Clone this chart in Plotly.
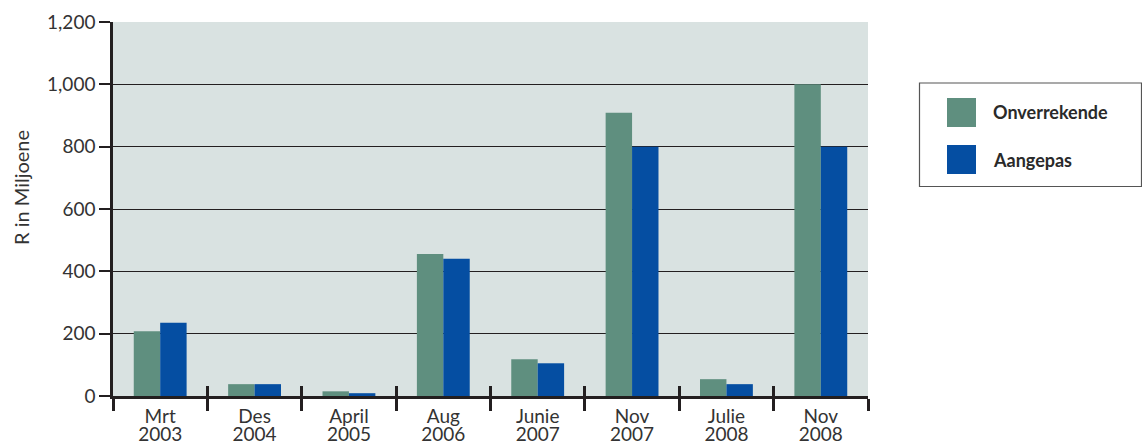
import plotly.graph_objects as go

months = ["Mrt", "Des", "April", "Aug", "Junie", "Nov", "Julie", "Nov"]
years = ["2003", "2004", "2005", "2006", "2007", "2007", "2008", "2008"]
categories = [m + " " + y for m, y in zip(months, years)]
onverrekende = [208, 38, 15, 456, 118, 909, 54, 1000]
aangepas = [235, 38, 9, 440, 105, 800, 38, 800]
series_names = ["Onverrekende", "Aangepas"]
colors = ["#5F8F7F", "#054EA2"]
y_ticks = [0, 200, 400, 600, 800, 1000, 1200]

W, H = 1142, 443
ML, MR, MT, MB = 113, 274, 22, 47
dark = "#231F20"
txt = "#333333"
FONT = "Lato, Open Sans, sans-serif"

fig = go.Figure()
for name, vals, col in zip(series_names, [onverrekende, aangepas], colors):
    fig.add_trace(go.Bar(x=categories, y=vals, name=name, marker_color=col,
                         marker_line_width=0, showlegend=False))

# invisible traces to activate overlay axes (upward boundary ticks, year labels)
for ax in ["x2", "x3"]:
    fig.add_trace(go.Bar(x=categories, y=[0] * len(categories), xaxis=ax,
                         showlegend=False, hoverinfo="skip", marker_opacity=0))

xr = [-0.5, len(categories) - 0.5]
fig.update_layout(
    width=W, height=H,
    margin=dict(l=ML, r=MR, t=MT, b=MB),
    paper_bgcolor="white", plot_bgcolor="#D9E2E1",
    barmode="group", bargap=0.44, bargroupgap=0,
    font=dict(family=FONT, color=txt, size=19),
    xaxis=dict(type="category", showline=True, linecolor=dark, linewidth=2.5,
               ticks="outside", tickson="boundaries", ticklen=12, tickwidth=2.5,
               tickcolor=dark, showgrid=False, tickfont=dict(size=19, color=txt),
               tickmode="array", tickvals=categories, ticktext=months,
               ticklabelstandoff=1, automargin=False, range=xr),
    xaxis2=dict(type="category", overlaying="x", anchor="y", side="bottom",
                ticks="inside", tickson="boundaries", ticklen=10, tickwidth=2.5,
                tickcolor=dark, showticklabels=False, showgrid=False, showline=False,
                automargin=False, range=xr),
    xaxis3=dict(type="category", overlaying="x", anchor="y", side="bottom",
                ticks="", showgrid=False, showline=False,
                tickmode="array", tickvals=categories, ticktext=years,
                tickfont=dict(size=19, color=txt), ticklabelstandoff=25,
                automargin=False, range=xr),
    yaxis=dict(range=[0, 1200], tickvals=y_ticks, tickformat=",d",
               showline=True, linecolor=dark, linewidth=2.5,
               ticks="outside", ticklen=11, tickwidth=1.5, tickcolor=dark,
               showgrid=True, gridcolor=dark, gridwidth=1.2, zeroline=False,
               tickfont=dict(size=19, color=txt), automargin=False),
)

def px_x(x):
    return (x - ML) / (W - ML - MR)

def px_y(y):
    return 1 - (y - MT) / (H - MT - MB)

# y axis title
fig.add_annotation(xref="paper", yref="paper", x=px_x(21), y=px_y(188),
                   xanchor="center", yanchor="middle", showarrow=False,
                   textangle=-90, text="R in Miljoene",
                   font=dict(size=20, color=txt, family=FONT))

# custom legend box (paper coords)
fig.add_shape(type="rect", xref="paper", yref="paper",
              x0=px_x(919.5), x1=px_x(1141.5), y0=px_y(186.5), y1=px_y(83),
              line=dict(color="#555555", width=1.2), fillcolor="white", layer="above")
for i, (name, col) in enumerate(zip(series_names, colors)):
    top = 98 + i * 47
    fig.add_shape(type="rect", xref="paper", yref="paper",
                  x0=px_x(947), x1=px_x(976), y0=px_y(top + 29), y1=px_y(top),
                  line=dict(width=0), fillcolor=col, layer="above")
    fig.add_annotation(xref="paper", yref="paper", x=px_x(991), y=px_y(top + 14.5),
                       xanchor="left", yanchor="middle", showarrow=False,
                       text="<b>%s</b>" % name,
                       font=dict(size=18, color="#2a2a2a", family=FONT))

fig.write_html("out.html")
